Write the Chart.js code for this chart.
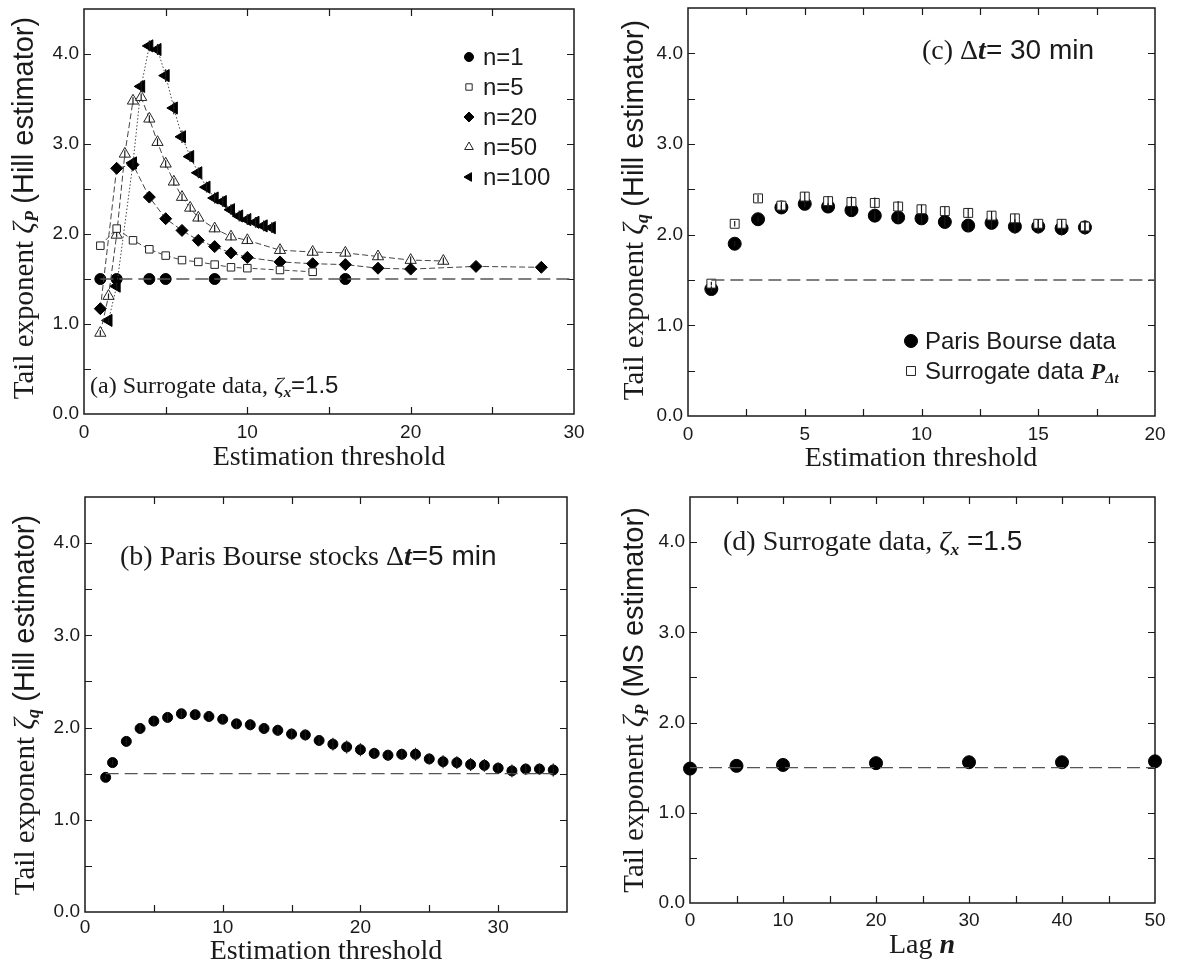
<!DOCTYPE html>
<html>
<head>
<meta charset="utf-8">
<script src="https://cdn.jsdelivr.net/npm/chart.js@4.4.1/dist/chart.umd.min.js"></script>
<style>
  body { margin: 0; background: #fff; }
  #page { position: relative; width: 1198px; height: 967px; overflow: hidden; background: #fff; }
  .panel { position: absolute; }
  .panel canvas { display: block; }
  .txt { position: absolute; white-space: nowrap; color: #1a1a1a; line-height: 1; }
  .serif { font-family: "Liberation Serif", "DejaVu Serif", serif; }
  .sans { font-family: "Liberation Sans", Arial, sans-serif; }
  .bi { font-weight: bold; font-style: italic; }
  .it { font-style: italic; }
  sub { font-size: 0.62em; vertical-align: -0.3em; line-height: 0; }
  .ytitle { transform: translate(-50%, -50%) rotate(-90deg); font-size: 29px; }
  .xtitle { transform: translate(-50%, -50%); font-size: 28px; }
  .lbl { transform: translateY(-50%); font-size: 28px; }
  .key { transform: translateY(-50%); font-size: 24px; }
</style>
</head>
<body>
<div id="page">
  <div class="panel" style="left:0;top:0"><canvas id="chartA" width="600" height="480"></canvas></div>
  <div class="panel" style="left:600px;top:0"><canvas id="chartC" width="598" height="480"></canvas></div>
  <div class="panel" style="left:0;top:480px"><canvas id="chartB" width="600" height="487"></canvas></div>
  <div class="panel" style="left:600px;top:480px"><canvas id="chartD" width="598" height="487"></canvas></div>

  <!-- panel (a) -->
  <div class="txt ytitle" style="left:23px;top:208px"><span class="serif">Tail exponent <span class="it">ζ<sub class="bi">P</sub></span></span> <span class="sans">(Hill estimator)</span></div>
  <div class="txt xtitle serif" style="left:329px;top:456px">Estimation threshold</div>
  <div class="txt lbl" style="left:90px;top:385px;font-size:24px"><span class="serif">(a) Surrogate data, <span class="it">ζ<sub class="bi">x</sub></span></span><span class="sans">=1.5</span></div>
  <div class="txt key sans" style="left:483px;top:57px">n=1</div>
  <div class="txt key sans" style="left:483px;top:87px">n=5</div>
  <div class="txt key sans" style="left:483px;top:117px">n=20</div>
  <div class="txt key sans" style="left:483px;top:147px">n=50</div>
  <div class="txt key sans" style="left:483px;top:177px">n=100</div>

  <!-- panel (c) -->
  <div class="txt ytitle" style="left:633px;top:210px"><span class="serif">Tail exponent <span class="it">ζ<sub class="bi">q</sub></span></span> <span class="sans">(Hill estimator)</span></div>
  <div class="txt xtitle serif" style="left:921px;top:457px">Estimation threshold</div>
  <div class="txt lbl" style="left:922px;top:50px"><span class="serif">(c) Δ<span class="bi">t</span></span><span class="sans">= 30 min</span></div>
  <div class="txt key sans" style="left:925px;top:341px">Paris Bourse data</div>
  <div class="txt key" style="left:925px;top:371px"><span class="sans">Surrogate data </span><span class="serif bi">P<sub class="serif it">Δt</sub></span></div>

  <!-- panel (b) -->
  <div class="txt ytitle" style="left:24px;top:705px"><span class="serif">Tail exponent <span class="it">ζ<sub class="bi">q</sub></span></span> <span class="sans">(Hill estimator)</span></div>
  <div class="txt xtitle serif" style="left:326px;top:950px">Estimation threshold</div>
  <div class="txt lbl" style="left:120px;top:556px"><span class="serif">(b) Paris Bourse stocks Δ<span class="bi">t</span></span><span class="sans">=5 min</span></div>

  <!-- panel (d) -->
  <div class="txt ytitle" style="left:633px;top:700px"><span class="serif">Tail exponent <span class="it">ζ<sub class="bi">P</sub></span></span> <span class="sans">(MS estimator)</span></div>
  <div class="txt xtitle serif" style="left:922px;top:944px">Lag <span class="bi">n</span></div>
  <div class="txt lbl" style="left:723px;top:541px"><span class="serif">(d) Surrogate data, <span class="it">ζ<sub class="bi">x</sub></span></span><span class="sans"> =1.5</span></div>
</div>

<script>
// ---- data: panel (a), surrogate data, Hill estimator for several lags n
const thrA1 = [1, 2, 4, 5, 8, 16];
const zetaA1 = [1.5, 1.5, 1.5, 1.5, 1.5, 1.5];
const thrA5 = [1, 2, 3, 4, 5, 6, 7, 8, 9, 10, 12, 14];
const zetaA5 = [1.87, 2.06, 1.93, 1.83, 1.76, 1.71, 1.69, 1.66, 1.63, 1.62, 1.60, 1.58];
const thrA20 = [1, 2, 3, 4, 5, 6, 7, 8, 9, 10, 12, 14, 16, 18, 20, 24, 28];
const zetaA20 = [1.17, 2.73, 2.77, 2.41, 2.17, 2.04, 1.93, 1.86, 1.79, 1.74, 1.69, 1.67, 1.66, 1.62, 1.61, 1.64, 1.63];
const thrA50 = [1, 1.5, 2, 2.5, 3, 3.5, 4, 4.5, 5, 5.5, 6, 6.5, 7, 8, 9, 10, 12, 14, 16, 18, 20, 22];
const zetaA50 = [0.90, 1.31, 1.99, 2.89, 3.48, 3.52, 3.28, 3.02, 2.78, 2.58, 2.41, 2.29, 2.18, 2.06, 1.97, 1.93, 1.82, 1.80, 1.79, 1.75, 1.71, 1.70];
const errA50 = [0.03, 0.03, 0.03, 0.04, 0.04, 0.04, 0.04, 0.04, 0.04, 0.04, 0.04, 0.04, 0.04, 0.04, 0.04, 0.04, 0.04, 0.04, 0.04, 0.04, 0.04, 0.04];
const thrA100 = [1.5, 2, 3, 3.5, 4, 4.5, 5, 5.5, 6, 6.5, 7, 7.5, 8, 8.5, 9, 9.5, 10, 10.5, 11, 11.5];
const zetaA100 = [1.04, 1.42, 2.79, 3.64, 4.09, 4.05, 3.76, 3.40, 3.08, 2.86, 2.68, 2.52, 2.40, 2.36, 2.27, 2.20, 2.16, 2.13, 2.09, 2.07];
const errA100 = [0.03, 0.04, 0.05, 0.06, 0.06, 0.06, 0.07, 0.07, 0.07, 0.06, 0.06, 0.06, 0.06, 0.06, 0.06, 0.06, 0.06, 0.06, 0.06, 0.06];
const refA = [1, 30];

// ---- panel (c), dt = 30 min
const thrC = [1, 2, 3, 4, 5, 6, 7, 8, 9, 10, 11, 12, 13, 14, 15, 16, 17];
const zetaCParis = [1.40, 1.90, 2.17, 2.30, 2.34, 2.31, 2.27, 2.21, 2.19, 2.18, 2.14, 2.10, 2.13, 2.09, 2.09, 2.07, 2.08];
const errCParis = [0.03, 0.03, 0.03, 0.03, 0.04, 0.04, 0.05, 0.05, 0.06, 0.06, 0.06, 0.07, 0.07, 0.08, 0.08, 0.08, 0.08];
const zetaCSurr = [1.46, 2.12, 2.40, 2.32, 2.42, 2.37, 2.36, 2.35, 2.31, 2.28, 2.26, 2.24, 2.21, 2.18, 2.12, 2.12, 2.09];
const errCSurr = [0.02, 0.03, 0.04, 0.04, 0.05, 0.05, 0.06, 0.06, 0.06, 0.05, 0.05, 0.05, 0.05, 0.05, 0.05, 0.05, 0.05];
const refC = [1, 20];

// ---- panel (b), Paris Bourse stocks dt = 5 min
const thrB = [1.5, 2, 3, 4, 5, 6, 7, 8, 9, 10, 11, 12, 13, 14, 15, 16, 17, 18, 19, 20, 21, 22, 23, 24, 25, 26, 27, 28, 29, 30, 31, 32, 33, 34];
const zetaB = [1.46, 1.62, 1.85, 1.99, 2.07, 2.11, 2.15, 2.14, 2.12, 2.09, 2.04, 2.03, 1.99, 1.97, 1.93, 1.92, 1.86, 1.82, 1.79, 1.76, 1.72, 1.70, 1.71, 1.71, 1.66, 1.63, 1.62, 1.60, 1.59, 1.56, 1.53, 1.55, 1.55, 1.54];
const errB = [0.02, 0.03, 0.04, 0.05, 0.05, 0.05, 0.05, 0.05, 0.05, 0.05, 0.05, 0.06, 0.06, 0.06, 0.06, 0.06, 0.06, 0.07, 0.07, 0.07, 0.06, 0.06, 0.06, 0.07, 0.06, 0.07, 0.07, 0.07, 0.07, 0.06, 0.07, 0.06, 0.06, 0.07];
const refB = [1.5, 34];

// ---- panel (d), MS estimator vs lag
const lagD = [0, 5, 10, 20, 30, 40, 50];
const zetaD = [1.49, 1.52, 1.53, 1.55, 1.56, 1.56, 1.57];
const refD = [0, 50];

const zetaTrue = 1.5;
const ink = '#1a1a1a';
const tickFont = { family: 'Liberation Sans', size: 19 };

function pts(xs, ys) { return xs.map((x, i) => ({ x: x, y: ys[i] })); }
function refLine(xs) {
  return { data: xs.map(x => ({ x: x, y: zetaTrue })), showLine: true, pointRadius: 0,
           borderColor: '#555', borderWidth: 1.3, borderDash: [13, 6], clip: false };
}

// box with inward ticks on all four sides
const frameTicks = {
  id: 'frameTicks',
  beforeDatasetsDraw(chart, args, opts) {
    const { ctx, chartArea: a } = chart;
    const x = chart.scales.x, y = chart.scales.y;
    ctx.save();
    ctx.strokeStyle = ink;
    ctx.lineWidth = 1.5;
    ctx.strokeRect(a.left, a.top, a.right - a.left, a.bottom - a.top);
    ctx.lineWidth = 1.2;
    ctx.beginPath();
    for (let v = x.min + opts.xStep; v < x.max - 1e-6; v += opts.xStep) {
      const px = Math.round(x.getPixelForValue(v)) + 0.5;
      ctx.moveTo(px, a.bottom); ctx.lineTo(px, a.bottom - 7);
      ctx.moveTo(px, a.top); ctx.lineTo(px, a.top + 7);
    }
    for (let v = y.min + 0.5; v < y.max - 1e-6; v += 0.5) {
      const py = Math.round(y.getPixelForValue(v)) + 0.5;
      ctx.moveTo(a.left, py); ctx.lineTo(a.left + 7, py);
      ctx.moveTo(a.right, py); ctx.lineTo(a.right - 7, py);
    }
    ctx.stroke();
    ctx.restore();
  }
};

const errorBars = {
  id: 'errorBars',
  afterDatasetsDraw(chart) {
    const ctx = chart.ctx, ys = chart.scales.y;
    chart.data.datasets.forEach((ds, i) => {
      if (!ds.errors) return;
      const meta = chart.getDatasetMeta(i);
      ctx.save();
      ctx.strokeStyle = ink;
      ctx.lineWidth = 1.2;
      ctx.beginPath();
      ds.data.forEach((p, j) => {
        const px = meta.data[j].x;
        ctx.moveTo(px, ys.getPixelForValue(p.y - ds.errors[j]));
        ctx.lineTo(px, ys.getPixelForValue(p.y + ds.errors[j]));
      });
      ctx.stroke();
      ctx.restore();
    });
  }
};

// legend symbols, drawn with each dataset's own point style
const keyMarks = {
  id: 'keyMarks',
  afterDraw(chart, args, opts) {
    if (!opts.items || !Chart.helpers || !Chart.helpers.drawPoint) return;
    const ctx = chart.ctx;
    opts.items.forEach(it => {
      const ds = chart.data.datasets[it.ds];
      ctx.save();
      ctx.fillStyle = ds.pointBackgroundColor;
      ctx.strokeStyle = ds.pointBorderColor;
      ctx.lineWidth = ds.pointBorderWidth;
      Chart.helpers.drawPoint(ctx, { pointStyle: ds.pointStyle, rotation: ds.pointRotation || 0,
        radius: it.r, borderWidth: ds.pointBorderWidth }, it.x, it.y);
      ctx.restore();
    });
  }
};

function makeChart(id, box, xMax, xLabelStep, xTickStep, datasets, keys) {
  return new Chart(document.getElementById(id), {
    type: 'scatter',
    data: { datasets: datasets },
    plugins: [frameTicks, errorBars, keyMarks],
    options: {
      responsive: false,
      animation: false,
      events: [],
      layout: { padding: { left: 0, top: box.t, right: box.w - box.r, bottom: 0 } },
      scales: {
        x: {
          type: 'linear', min: 0, max: xMax,
          grid: { display: false, drawTicks: false }, border: { display: false },
          ticks: { stepSize: xLabelStep, includeBounds: false, padding: box.tp, color: ink, font: tickFont,
                   maxRotation: 0, autoSkip: false, callback: v => String(v) },
          afterFit: s => { s.height = box.h - box.b; s.paddingLeft = 0; s.paddingRight = 0; }
        },
        y: {
          type: 'linear', min: 0, max: 4.5,
          grid: { display: false, drawTicks: false }, border: { display: false },
          ticks: { stepSize: 1, includeBounds: false, padding: 5, color: ink, font: tickFont,
                   callback: v => v.toFixed(1) },
          afterFit: s => { s.width = box.l; s.paddingTop = 0; s.paddingBottom = 0; }
        }
      },
      plugins: {
        legend: { display: false },
        tooltip: { enabled: false },
        frameTicks: { xStep: xTickStep },
        keyMarks: { items: keys || [] }
      }
    }
  });
}

const filled = { pointBackgroundColor: '#000', pointBorderColor: '#000', pointBorderWidth: 1, clip: false };
const open = { pointBackgroundColor: '#fff', pointBorderColor: '#222', pointBorderWidth: 1, clip: false };

// (a)
makeChart('chartA', { w: 600, h: 480, l: 84, t: 9, r: 574, b: 414, tp: 7 }, 30, 10, 5, [
  refLine(refA),
  Object.assign({ label: 'n=5', data: pts(thrA5, zetaA5), showLine: true, borderColor: '#444', borderWidth: 1,
    borderDash: [5, 3], pointStyle: 'rect', pointRadius: 5.3 }, open),
  Object.assign({ label: 'n=20', data: pts(thrA20, zetaA20), showLine: true, borderColor: '#444', borderWidth: 1,
    borderDash: [6, 3], pointStyle: 'rectRot', pointRadius: 6 }, filled),
  Object.assign({ label: 'n=50', data: pts(thrA50, zetaA50), errors: errA50, showLine: true, borderColor: '#444',
    borderWidth: 1, borderDash: [6, 3], pointStyle: 'triangle', pointRadius: 6.5 }, open),
  Object.assign({ label: 'n=100', data: pts(thrA100, zetaA100), errors: errA100, showLine: true, borderColor: '#444',
    borderWidth: 1, borderDash: [1.5, 2], pointStyle: 'triangle', pointRotation: -90, pointRadius: 7 }, filled),
  Object.assign({ label: 'n=1', data: pts(thrA1, zetaA1), showLine: false, pointStyle: 'circle', pointRadius: 5.5 }, filled)
], [
  { ds: 5, x: 469, y: 57, r: 4.5 },
  { ds: 1, x: 469, y: 87, r: 4.5 },
  { ds: 2, x: 469, y: 117, r: 5 },
  { ds: 3, x: 469, y: 147, r: 5 },
  { ds: 4, x: 469, y: 177, r: 5 }
]);

// (c)
makeChart('chartC', { w: 598, h: 480, l: 88, t: 8, r: 555, b: 416, tp: 7 }, 20, 5, 2.5, [
  refLine(refC),
  Object.assign({ label: 'Surrogate data', data: pts(thrC, zetaCSurr), errors: errCSurr, showLine: false,
    pointStyle: 'rect', pointRadius: 6.3 }, open),
  Object.assign({ label: 'Paris Bourse data', data: pts(thrC, zetaCParis), errors: errCParis, showLine: false,
    pointStyle: 'circle', pointRadius: 6.5 }, filled)
], [
  { ds: 2, x: 311, y: 341, r: 6.5 },
  { ds: 1, x: 311, y: 371, r: 6.3 }
]);

// (b)
makeChart('chartB', { w: 600, h: 487, l: 85, t: 17, r: 567, b: 432, tp: 4 }, 35, 10, 5, [
  refLine(refB),
  Object.assign({ label: 'Paris Bourse stocks', data: pts(thrB, zetaB), errors: errB, showLine: false,
    pointStyle: 'circle', pointRadius: 5 }, filled)
]);

// (d)
makeChart('chartD', { w: 598, h: 487, l: 90, t: 17, r: 555, b: 423, tp: 6 }, 50, 10, 5, [
  refLine(refD),
  Object.assign({ label: 'MS estimator', data: pts(lagD, zetaD), showLine: false,
    pointStyle: 'circle', pointRadius: 6.5 }, filled)
]);
</script>
</body>
</html>
